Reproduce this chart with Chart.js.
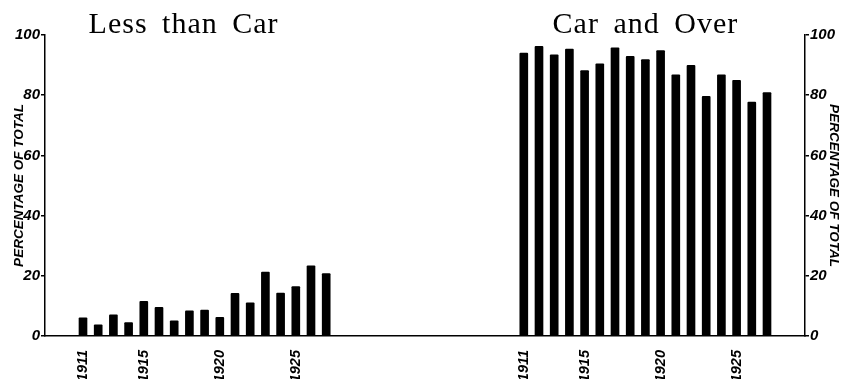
<!DOCTYPE html>
<html><head><meta charset="utf-8">
<script src="https://cdn.jsdelivr.net/npm/chart.js@4"></script>
<style>html,body{margin:0;padding:0;background:#fff;} #wrap{width:847px;height:379px;position:relative;}</style>
</head><body><div id="wrap"><canvas id="c" width="847" height="379"></canvas></div>
<script>
const years = ['1911','1912','1913','1914','1915','1916','1917','1918','1919','1920','1921','1922','1923','1924','1925','1926','1927'];
const shownYears = ['1911','1915','1920','1925'];
const lessThanCar = [6, 3.7, 7, 4.5, 11.5, 9.5, 5, 8.4, 8.6, 6.2, 14.2, 11, 21.2, 14.3, 16.4, 23.3, 20.7];
const carAndOver = [94, 96.2, 93.4, 95.3, 88.2, 90.4, 95.7, 92.9, 91.8, 94.8, 86.8, 89.9, 79.6, 86.8, 84.9, 77.7, 80.9];
const groupTitles = ['Less than Car', 'Car and Over'];
const axisTitle = 'PERCENTAGE OF TOTAL';

const PAD = 2, GAP = 12;
const nulls = n => Array(n).fill(null);
const blanks = n => Array(n).fill('');
const labels = [].concat(blanks(PAD), years, blanks(GAP), years, blanks(PAD));
const leftData = [].concat(nulls(PAD), lessThanCar, nulls(GAP + years.length + PAD));
const rightData = [].concat(nulls(PAD + years.length + GAP), carAndOver, nulls(PAD));

const tickFont = {family: 'Liberation Sans', style: 'italic', weight: 'bold', size: 15};
const titleFont = {family: 'Liberation Sans', style: 'italic', weight: 'bold', size: 13.5};

const groupTitlePlugin = {
  id: 'groupTitles',
  afterDraw(chart) {
    const ctx = chart.ctx, xs = chart.scales.x, ca = chart.chartArea;
    const lStart = ca.left, lEnd = xs.getPixelForValue(PAD + years.length - 1);
    const rStart = xs.getPixelForValue(PAD + years.length + GAP);
    const rEnd = xs.getPixelForValue(PAD + 2 * years.length + GAP - 1);
    ctx.save();
    ctx.fillStyle = '#000';
    ctx.font = '30px "Liberation Serif"';
    ctx.textAlign = 'center';
    ctx.textBaseline = 'alphabetic';
    if ('wordSpacing' in ctx) ctx.wordSpacing = '6px';
    if ('letterSpacing' in ctx) ctx.letterSpacing = '1px';
    ctx.fillText(groupTitles[0], (lStart + lEnd) / 2 - 2, 33);
    ctx.fillText(groupTitles[1], (rStart + rEnd) / 2, 33);
    ctx.restore();
  }
};

function yAxis(pos, width, titlePad) {
  return {
    position: pos, min: 0, max: 100,
    ticks: {stepSize: 20, padding: 1, color: '#000', font: tickFont},
    grid: {drawOnChartArea: false, drawTicks: true, tickLength: 4, color: '#000', lineWidth: 1.5},
    border: {display: true, color: '#000', width: 1.5},
    title: {display: true, text: axisTitle, color: '#000', font: titleFont, padding: {top: titlePad, bottom: 0}},
    afterFit(s) { s.width = width; }
  };
}

new Chart(document.getElementById('c'), {
  type: 'bar',
  data: {
    labels: labels,
    datasets: [
      {label: groupTitles[0], data: leftData, backgroundColor: '#000', yAxisID: 'y'},
      {label: groupTitles[1], data: rightData, backgroundColor: '#000', yAxisID: 'yR'}
    ]
  },
  options: {
    responsive: false, animation: false, devicePixelRatio: 1,
    layout: {padding: {top: 35, left: 0, right: 0, bottom: 0}},
    plugins: {legend: {display: false}, tooltip: {enabled: false}, title: {display: false}},
    datasets: {bar: {grouped: false, barThickness: 8, borderRadius: 1}},
    scales: {
      x: {
        type: 'category', offset: true,
        grid: {display: false},
        border: {display: true, color: '#000', width: 1.5},
        ticks: {
          autoSkip: false, minRotation: 90, maxRotation: 90, padding: 6, color: '#000',
          font: {family: 'Liberation Sans', style: 'italic', weight: 'bold', size: 14.5},
          callback: function(v) { const l = this.getLabelForValue(v); return shownYears.includes(l) ? l : ''; }
        },
        afterFit(s) { s.height = 43; }
      },
      y: yAxis('left', 45, 11),
      yR: yAxis('right', 42, 5)
    }
  },
  plugins: [groupTitlePlugin]
});
</script></body></html>
